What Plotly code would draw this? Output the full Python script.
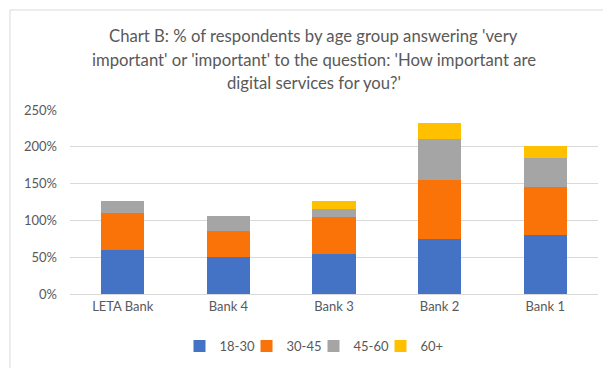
import plotly.graph_objects as go

categories = ["LETA Bank", "Bank 4", "Bank 3", "Bank 2", "Bank 1"]
age_18_30 = [60, 50, 55, 75, 80]
age_30_45 = [50, 35, 50, 80, 65]
age_45_60 = [17, 21, 10, 55, 40]
age_60_plus = [0, 0, 12, 22, 16]
series_names = ["18-30", "30-45", "45-60", "60+"]
y_ticks = [0, 50, 100, 150, 200, 250]
y_tick_labels = ["0%", "50%", "100%", "150%", "200%", "250%"]
title_lines = [
    "Chart B: % of respondents by age group answering 'very",
    "important' or 'important' to the question: 'How important are",
    "digital services for you?'",
]

colors = ["#4472C4", "#FA7308", "#A5A5A5", "#FFC000"]
W, H = 611, 368
ml, mr, mt, mb = 62, 21, 102, 82

fig = go.Figure()
for name, vals, c in zip(series_names, [age_18_30, age_30_45, age_45_60, age_60_plus], colors):
    fig.add_trace(go.Bar(name=name, x=categories, y=vals, marker=dict(color=c, line=dict(width=0))))

pw = W - ml - mr
ph = H - mt - mb
fig.add_shape(type="rect", xref="paper", yref="paper",
              x0=(2 - ml) / pw, x1=(W - 3 - ml) / pw,
              y0=-(H - 3 - mt - ph) / ph, y1=1 + (mt - 2) / ph,
              line=dict(color="#D9D9D9", width=1), fillcolor="rgba(0,0,0,0)", layer="below")

# title lines as centered text rows
title_centers_px = [28, 51.5, 74.5]
for line, py in zip(title_lines, title_centers_px):
    fig.add_annotation(text=line, xref="paper", yref="paper",
                       x=(W / 2 - ml) / pw, y=(H - mb - py) / ph,
                       xanchor="center", yanchor="middle", showarrow=False,
                       font=dict(size=16.7, color="#595959", family="Lato, sans-serif"))

fig.update_layout(
    width=W, height=H,
    margin=dict(l=ml, r=mr, t=mt, b=mb),
    barmode="stack", bargap=0.59,
    plot_bgcolor="white", paper_bgcolor="white",
    font=dict(family="Lato, Open Sans, sans-serif", color="#595959", size=13),
    yaxis=dict(range=[0, 250], tickvals=y_ticks, ticktext=y_tick_labels, gridcolor="#D9D9D9", gridwidth=1,
               zeroline=False, showline=False, ticks="", ticklabelstandoff=12,
               tickfont=dict(size=13, color="#595959")),
    xaxis=dict(showline=True, linecolor="#D9D9D9", linewidth=1, ticks="",
               tickfont=dict(size=13, color="#595959")),
    legend=dict(orientation="h", xref="container", x=0.5, xanchor="center", yref="container",
                y=1 - 338 / H, yanchor="middle", font=dict(size=13, color="#595959"),
                traceorder="normal", itemwidth=30, entrywidth=22, entrywidthmode="pixels"),
    showlegend=True,
)

fig.write_html("out.html")
